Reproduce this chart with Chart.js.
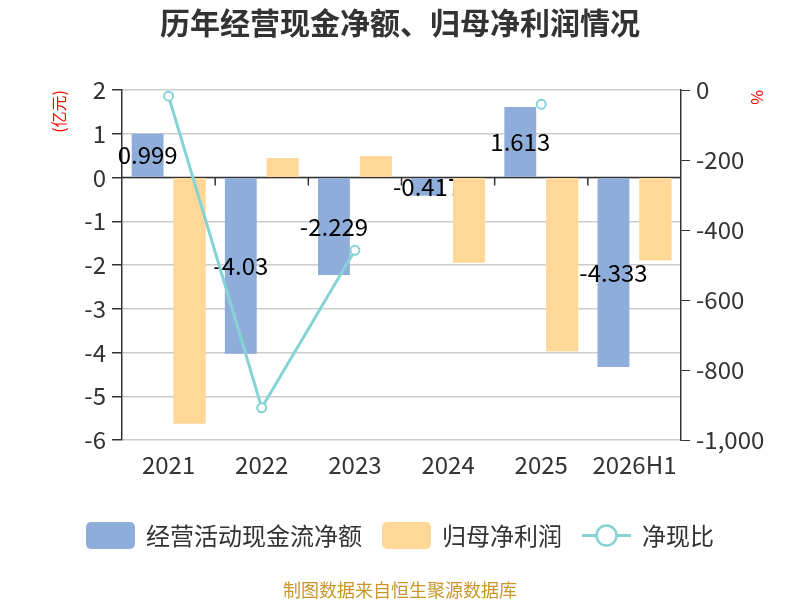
<!DOCTYPE html>
<html>
<head>
<meta charset="utf-8">
<script src="https://cdn.jsdelivr.net/npm/chart.js@4.4.1/dist/chart.umd.min.js"></script>
<style>
html,body{margin:0;padding:0;background:#fff;}
#wrap{width:800px;height:600px;}
</style>
</head>
<body>
<div id="wrap"><canvas id="c" width="800" height="600"></canvas></div>
<script>
// ---- data ----
const categories = ['2021', '2022', '2023', '2024', '2025', '2026H1'];
const cashFlow = [0.999, -4.03, -2.229, -0.417, 1.613, -4.333];
const netProfit = [-5.62, 0.44, 0.49, -1.94, -3.97, -1.89];
const cashRatio = [-17.8, -908, -458, null, -40.6, null];
const seriesNames = ['经营活动现金流净额', '归母净利润', '净现比'];
const leftAxis = { min: -6, max: 2, step: 1, title: '(亿元)' };
const rightAxis = { min: -1000, max: 0, step: 200, title: '%' };
const titleText = '历年经营现金净额、归母净利润情况';
const sourceText = '制图数据来自恒生聚源数据库';

const FAMILY = "'Noto Sans CJK SC', 'Noto Sans', sans-serif";
const BLUE = '#8eaddb';
const ORANGE = '#ffd898';
const TEAL = '#86d3d6';

const zeroLinePlugin = {
  id: 'zeroLine',
  beforeDatasetsDraw(chart) {
    const { ctx, chartArea, scales } = chart;
    const y0 = scales.y.getPixelForValue(0);
    ctx.save();
    ctx.strokeStyle = '#333';
    ctx.lineWidth = 1.5;
    ctx.beginPath();
    ctx.moveTo(chartArea.left, y0);
    ctx.lineTo(chartArea.right, y0);
    ctx.stroke();
    const xs = scales.x;
    ctx.beginPath();
    for (let i = 1; i < categories.length; i++) {
      const bx = (xs.getPixelForValue(i - 1) + xs.getPixelForValue(i)) / 2;
      ctx.moveTo(bx, y0);
      ctx.lineTo(bx, y0 + 8);
    }
    ctx.stroke();
    ctx.restore();
  }
};

// labels of the cash-flow bars, drawn under the net-profit bars (as in the reference)
const barLabelPlugin = {
  id: 'barLabels',
  afterDatasetDraw(chart, args) {
    if (args.index !== 0) return;
    const { ctx, chartArea } = chart;
    const meta = args.meta;
    ctx.save();
    ctx.font = `24px ${FAMILY}`;
    ctx.fillStyle = '#000';
    ctx.textAlign = 'center';
    ctx.textBaseline = 'middle';
    meta.data.forEach((el, i) => {
      const v = chart.data.datasets[0].data[i];
      if (v === null || v === undefined) return;
      ctx.fillText(String(v), el.x, (el.y + el.base) / 2);
    });
    ctx.restore();
    // redraw the net-profit bars on top of the labels
    const meta1 = chart.getDatasetMeta(1);
    ctx.save();
    ctx.beginPath();
    ctx.rect(chartArea.left, chartArea.top, chartArea.right - chartArea.left, chartArea.bottom - chartArea.top);
    ctx.clip();
    meta1.data.forEach(el => el.draw(ctx, chartArea));
    ctx.restore();
  }
};

const legendSourcePlugin = {
  id: 'legendSource',
  afterDraw(chart) {
    const { ctx } = chart;
    ctx.save();
    ctx.font = `24px ${FAMILY}`;
    const boxW = 49, boxH = 27, gap = 11, itemGap = 20;
    const widths = seriesNames.map(n => ctx.measureText(n).width);
    const total = widths.reduce((a, b) => a + b, 0) + 3 * (boxW + gap) + 2 * itemGap;
    let x = (chart.width - total) / 2;
    const cy = 535.5;
    seriesNames.forEach((name, i) => {
      const ds = chart.data.datasets[i];
      if (i < 2) {
        ctx.fillStyle = ds.backgroundColor;
        ctx.beginPath();
        ctx.roundRect(x, cy - boxH / 2, boxW, boxH, 5);
        ctx.fill();
      } else {
        ctx.strokeStyle = ds.borderColor;
        ctx.lineWidth = 3;
        ctx.beginPath();
        ctx.moveTo(x, cy);
        ctx.lineTo(x + boxW, cy);
        ctx.stroke();
        ctx.beginPath();
        ctx.arc(x + boxW / 2, cy, 10, 0, Math.PI * 2);
        ctx.fillStyle = '#fff';
        ctx.fill();
        ctx.lineWidth = 2.5;
        ctx.stroke();
      }
      ctx.fillStyle = '#333';
      ctx.textAlign = 'left';
      ctx.textBaseline = 'middle';
      ctx.fillText(name, x + boxW + gap, cy);
      x += boxW + gap + widths[i] + itemGap;
    });
    ctx.font = `18px ${FAMILY}`;
    ctx.fillStyle = '#c9962b';
    ctx.textAlign = 'center';
    ctx.fillText(sourceText, chart.width / 2, 590);
    ctx.restore();
  }
};

new Chart(document.getElementById('c'), {
  data: {
    labels: categories,
    datasets: [
      {
        type: 'bar', label: seriesNames[0], data: cashFlow, yAxisID: 'y',
        backgroundColor: BLUE, order: 1,
        categoryPercentage: 0.9, barPercentage: 0.76
      },
      {
        type: 'bar', label: seriesNames[1], data: netProfit, yAxisID: 'y',
        backgroundColor: ORANGE, order: 2,
        categoryPercentage: 0.9, barPercentage: 0.76
      },
      {
        type: 'line', label: seriesNames[2], data: cashRatio, yAxisID: 'y1',
        borderColor: TEAL, borderWidth: 3, backgroundColor: '#fff',
        pointRadius: 4.5, pointBorderWidth: 2, pointBackgroundColor: '#fff',
        pointBorderColor: TEAL, spanGaps: false, order: 0, tension: 0
      }
    ]
  },
  options: {
    responsive: false,
    animation: false,
    locale: 'en-US',
    layout: { padding: 0 },
    plugins: {
      legend: { display: false },
      tooltip: { enabled: false },
      title: {
        display: true, text: titleText, color: '#333',
        font: { size: 30, weight: 'bold', family: FAMILY },
        padding: { top: 5, bottom: 49 }
      }
    },
    scales: {
      x: {
        offset: true,
        grid: { display: false },
        border: { display: false },
        ticks: { color: '#333', font: { size: 24, family: FAMILY }, padding: 2, maxRotation: 0, autoSkip: false },
        afterFit(s) { s.height = 160; }
      },
      y: {
        position: 'left', min: leftAxis.min, max: leftAxis.max,
        ticks: { stepSize: leftAxis.step, color: '#333', font: { size: 24, family: FAMILY }, padding: 6 },
        grid: { color: '#cccccc', lineWidth: 1.5, tickColor: '#333', tickLength: 10 },
        border: { display: true, color: '#333', width: 1.5 },
        title: { display: true, text: leftAxis.title, color: '#ff0000', align: 'end', font: { size: 16, family: FAMILY }, padding: { top: 49, bottom: 0 } },
        afterFit(s) { s.width = 122; }
      },
      y1: {
        position: 'right', min: rightAxis.min, max: rightAxis.max,
        ticks: { stepSize: rightAxis.step, color: '#333', font: { size: 24, family: FAMILY }, padding: 6 },
        grid: { drawOnChartArea: false, tickColor: '#333', tickLength: 9 },
        border: { display: true, color: '#333', width: 1.5 },
        title: { display: true, text: rightAxis.title, color: '#ff0000', align: 'end', font: { size: 16, family: FAMILY }, padding: { top: 33, bottom: 0 } },
        afterFit(s) { s.width = 119; }
      }
    }
  },
  plugins: [zeroLinePlugin, barLabelPlugin, legendSourcePlugin]
});
</script>
</body>
</html>
